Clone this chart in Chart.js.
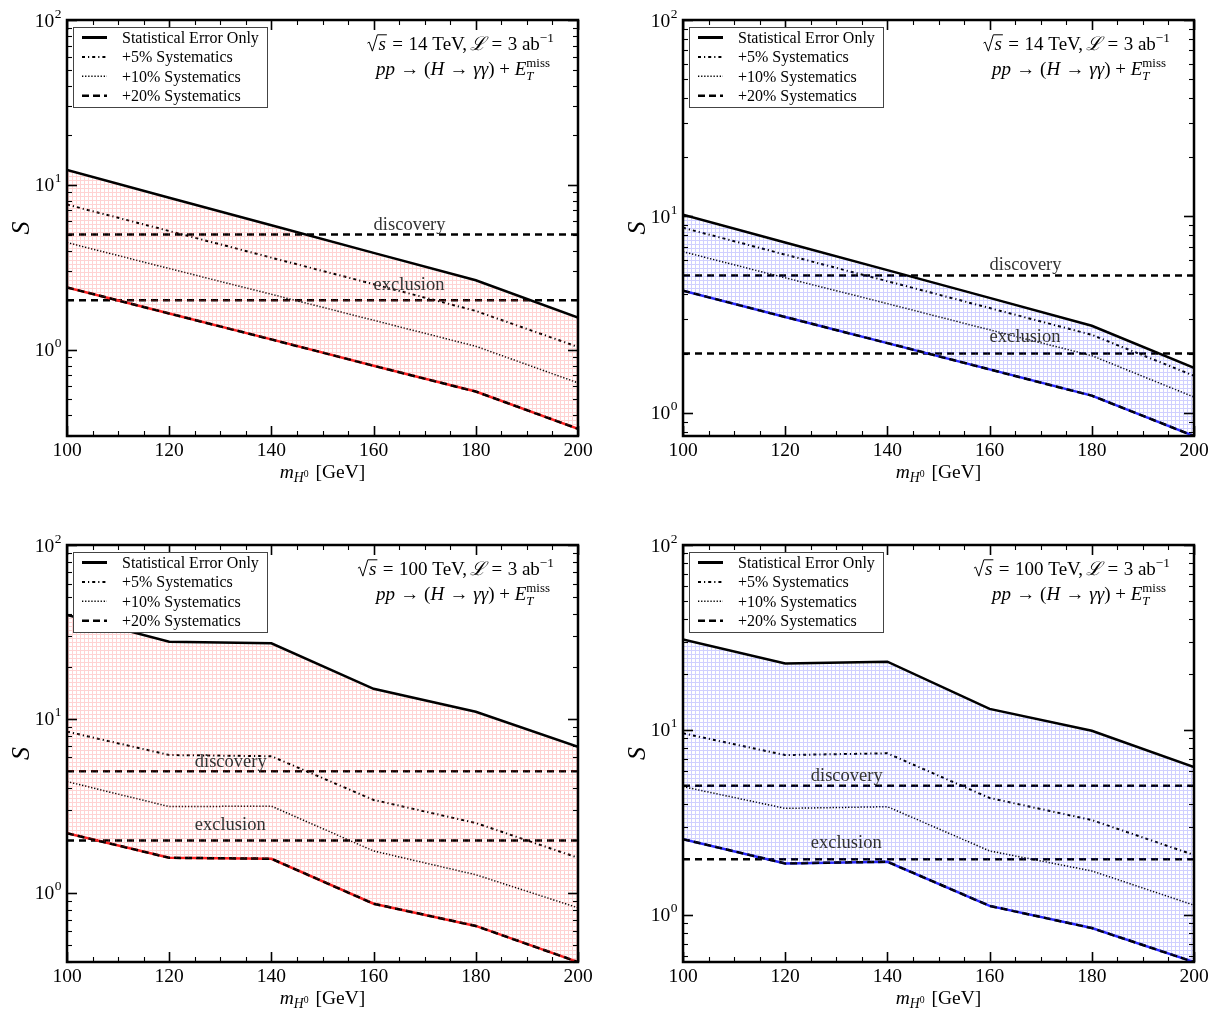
<!DOCTYPE html>
<html><head><meta charset="utf-8">
<script src="https://cdn.jsdelivr.net/npm/chart.js@4.4.1/dist/chart.umd.min.js"></script>
<style>
body{margin:0;background:#fff;width:1214px;height:1020px;position:relative;overflow:hidden}
canvas{position:absolute}
</style></head>
<body>
<canvas id="p1" width="607" height="510" style="left:0;top:0"></canvas>
<canvas id="p2" width="607" height="510" style="left:607px;top:0"></canvas>
<canvas id="p3" width="607" height="510" style="left:0;top:510px"></canvas>
<canvas id="p4" width="607" height="510" style="left:607px;top:510px"></canvas>
<script>
// ---------- data ----------
const masses = [100, 120, 140, 160, 180, 200];
const discoveryLevel = 5;
const exclusionLevel = 2;
const seriesLabels = ['Statistical Error Only', '+5% Systematics', '+10% Systematics', '+20% Systematics'];
const xTicks = [100, 120, 140, 160, 180, 200];

// 14 TeV, red panel
const statA  = [12.3, 8.36, 5.69, 3.87, 2.64, 1.57];
const sys5A  = [7.6, 5.25, 3.62, 2.5, 1.72, 1.04];
const sys10A = [4.47, 3.11, 2.17, 1.51, 1.05, 0.63];
const sys20A = [2.39, 1.66, 1.156, 0.80, 0.558, 0.332];
// 14 TeV, blue panel
const statB  = [10.2, 7.36, 5.32, 3.84, 2.77, 1.69];
const sys5B  = [8.74, 6.38, 4.67, 3.41, 2.49, 1.54];
const sys10B = [6.6, 4.86, 3.59, 2.64, 1.95, 1.2];
const sys20B = [4.18, 3.07, 2.26, 1.66, 1.22, 0.76];
// 100 TeV, red panel
const statC  = [39.6, 27.8, 27.2, 14.9, 11.0, 6.9];
const sys5C  = [8.45, 6.2, 6.1, 3.42, 2.52, 1.59];
const sys10C = [4.36, 3.13, 3.15, 1.74, 1.27, 0.82];
const sys20C = [2.2, 1.59, 1.57, 0.865, 0.645, 0.40];
// 100 TeV, blue panel
const statD  = [30.9, 22.9, 23.4, 13.0, 9.9, 6.3];
const sys5D  = [9.6, 7.32, 7.48, 4.29, 3.26, 2.11];
const sys10D = [4.94, 3.77, 3.85, 2.22, 1.73, 1.13];
const sys20D = [2.57, 1.9, 1.94, 1.12, 0.85, 0.557];

const yMins = [0.332, 0.76, 0.40, 0.557];
const yMax = 100;
const energies = ['14', '14', '100', '100'];
const labelXs = [160, 160, 125, 125];

// ---------- helpers ----------
const FONT = '"Liberation Serif", "DejaVu Serif", serif';
function fnt(px, it) { return (it ? 'italic ' : '') + px + 'px ' + FONT; }

function hatch(color) {
  const c = document.createElement('canvas');
  c.width = 4; c.height = 4;
  const g = c.getContext('2d');
  g.fillStyle = color;
  g.fillRect(0, 0, 4, 1);
  g.fillRect(0, 1, 1, 3);
  return g.createPattern(c, 'repeat');
}

function segW(ctx, s, base) {
  ctx.font = fnt(base * (s.s || 1), s.it);
  return ctx.measureText(s.t).width + (s.pad || 0) * base;
}
function rich(ctx, segs, x, y, base, align) {
  const ws = segs.map(s => {
    if (s.stack) return Math.max(...s.stack.map(q => segW(ctx, q, base)));
    if (s.rad) return 0.62 * base + segW(ctx, s, base) + 1;
    return segW(ctx, s, base);
  });
  const total = ws.reduce((a, b) => a + b, 0);
  let cx = align === 'right' ? x - total : align === 'center' ? x - total / 2 : x;
  ctx.textBaseline = 'alphabetic';
  ctx.textAlign = 'left';
  segs.forEach((s, i) => {
    if (s.stack) {
      s.stack.forEach(q => {
        ctx.font = fnt(base * (q.s || 1), q.it);
        ctx.fillText(q.t, cx, y + (q.dy || 0) * base);
      });
    } else if (s.rad) {
      const w = segW(ctx, s, base);
      ctx.save();
      ctx.lineWidth = 1;
      ctx.beginPath();
      ctx.moveTo(cx + 0.04 * base, y - 0.36 * base);
      ctx.lineTo(cx + 0.13 * base, y - 0.42 * base);
      ctx.lineTo(cx + 0.30 * base, y + 0.06 * base);
      ctx.lineTo(cx + 0.56 * base, y - 0.80 * base);
      ctx.lineTo(cx + 0.62 * base + w + 1, y - 0.80 * base);
      ctx.stroke();
      ctx.restore();
      ctx.font = fnt(base * (s.s || 1), s.it);
      ctx.fillText(s.t, cx + 0.62 * base, y);
    } else {
      ctx.font = fnt(base * (s.s || 1), s.it);
      ctx.fillText(s.t, cx + (s.pre || 0) * base, y + (s.dy || 0) * base);
    }
    cx += ws[i];
  });
  return total;
}

function line(ctx, x1, y1, x2, y2) {
  ctx.beginPath(); ctx.moveTo(x1, y1); ctx.lineTo(x2, y2); ctx.stroke();
}

const decorPlugin = {
  id: 'decor',
  afterDatasetsDraw(chart, args, opts) {
    const ctx = chart.ctx;
    const { left, right, top, bottom } = chart.chartArea;
    const xs = chart.scales.x, ys = chart.scales.y;
    ctx.save();
    ctx.strokeStyle = '#000';
    ctx.fillStyle = '#000';
    // x ticks
    for (let v = 100; v <= 200; v += 5) {
      const px = Math.round(xs.getPixelForValue(v)) + 0.5;
      const major = v % 20 === 0;
      const len = major ? 10 : 5;
      ctx.lineWidth = major ? 1.6 : 1.1;
      line(ctx, px, bottom, px, bottom - len);
      line(ctx, px, top, px, top + len);
    }
    // y ticks
    const ymin = ys.min, ymax = ys.max;
    for (let d = -1; d <= 2; d++) {
      for (let k = 1; k <= 9; k++) {
        const v = k * Math.pow(10, d);
        if (v < ymin * 0.999 || v > ymax * 1.001) continue;
        const py = Math.round(ys.getPixelForValue(v)) + 0.5;
        const major = k === 1;
        const len = major ? 10 : 5;
        ctx.lineWidth = major ? 1.6 : 1.1;
        line(ctx, left, py, left + len, py);
        line(ctx, right, py, right - len, py);
      }
    }
    // frame
    ctx.lineWidth = 2.5;
    ctx.strokeRect(left, top, right - left, bottom - top);

    // x tick labels
    ctx.font = fnt(19.5, false);
    ctx.textAlign = 'center';
    ctx.textBaseline = 'alphabetic';
    xTicks.forEach(v => {
      ctx.fillText(String(v), xs.getPixelForValue(v), bottom + 20);
    });
    // y tick labels
    for (let d = 0; d <= 2; d++) {
      const v = Math.pow(10, d);
      if (v < ymin || v > ymax) continue;
      const py = ys.getPixelForValue(v);
      ctx.font = fnt(19.5, false);
      const w1 = ctx.measureText('10').width;
      ctx.font = fnt(13.5, false);
      const w2 = ctx.measureText(String(d)).width;
      const x0 = left - 6 - w1 - w2;
      ctx.textAlign = 'left';
      ctx.font = fnt(19.5, false);
      ctx.fillText('10', x0, py + 6.5);
      ctx.font = fnt(13.5, false);
      ctx.fillText(String(d), x0 + w1 + 0.5, py - 2.5);
    }
    // axis titles
    rich(ctx, [
      { t: 'm', it: true },
      { t: 'H', it: true, s: 0.7, dy: 0.22 },
      { t: '0', s: 0.5, dy: -0.05, pad: 0.1 },
      { t: ' [GeV]' }
    ], (left + right) / 2, bottom + 42, 19.5, 'center');
    ctx.save();
    ctx.translate(left - 45, (top + bottom) / 2);
    ctx.rotate(-Math.PI / 2);
    ctx.font = fnt(26, true);
    ctx.textAlign = 'center';
    ctx.textBaseline = 'middle';
    ctx.fillText('S', 0, 0);
    ctx.restore();

    // discovery / exclusion labels
    ctx.font = fnt(18.5, false);
    ctx.textAlign = 'left';
    ctx.textBaseline = 'alphabetic';
    ctx.fillStyle = '#333';
    ctx.fillText('discovery', xs.getPixelForValue(opts.labelX), ys.getPixelForValue(5.3));
    ctx.fillText('exclusion', xs.getPixelForValue(opts.labelX), ys.getPixelForValue(2.3));
    ctx.fillStyle = '#000';

    // annotation
    rich(ctx, [
      { rad: true, t: 's', it: true },
      { t: ' = ', pad: 0.08, pre: 0.04 },
      { t: opts.energy + ' TeV,', pad: 0.15 },
      { t: 'ℒ', it: true },
      { t: ' = ', pad: 0.08, pre: 0.04 },
      { t: '3 ab' },
      { t: '−1', s: 0.7, dy: -0.4 }
    ], right - 24, top + 30, 19, 'right');
    rich(ctx, [
      { t: 'pp', it: true, pad: 0.03 },
      { t: ' → (' },
      { t: 'H', it: true, pad: 0.03 },
      { t: ' → ' },
      { t: 'γγ', it: true },
      { t: ') + ' },
      { t: 'E', it: true },
      { stack: [{ t: 'miss', s: 0.68, dy: -0.42 }, { t: 'T', it: true, s: 0.68, dy: 0.25 }] }
    ], right - 28, top + 55, 19, 'right');

    // legend
    const lx = left + 6, ly = top + 7, lw = 194, lh = 80;
    ctx.fillStyle = '#fff';
    ctx.fillRect(lx, ly, lw, lh);
    ctx.strokeStyle = '#444';
    ctx.lineWidth = 1;
    ctx.strokeRect(lx + 0.5, ly + 0.5, lw, lh);
    const styles = [
      { w: 3, dash: [] },
      { w: 2, dash: [3, 3, 1.2, 3] },
      { w: 1.5, dash: [1.3, 1.8] },
      { w: 2.5, dash: [7, 4] }
    ];
    ctx.font = fnt(16, false);
    ctx.textAlign = 'left';
    ctx.textBaseline = 'middle';
    seriesLabels.forEach((lab, i) => {
      const yy = ly + 10.5 + i * 19.4;
      ctx.strokeStyle = '#000';
      ctx.lineWidth = styles[i].w;
      ctx.setLineDash(styles[i].dash);
      line(ctx, lx + 9, yy, lx + 34, yy);
      ctx.setLineDash([]);
      ctx.fillStyle = '#000';
      ctx.fillText(lab, lx + 49, yy + 1);
    });
    ctx.restore();
  }
};

function pts(arr) { return masses.map((m, i) => ({ x: m, y: arr[i] })); }
function hline(v) { return [{ x: 100, y: v }, { x: 200, y: v }]; }

function makePanel(id, pad, stat, s5, s10, s20, ymin, red, energy, labelX) {
  const lineCol = red ? 'rgb(255,30,30)' : 'rgb(40,40,255)';
  const fillPat = hatch(red ? 'rgba(255,70,70,0.24)' : 'rgba(60,60,255,0.24)');
  new Chart(document.getElementById(id), {
    type: 'line',
    data: {
      datasets: [
        { label: seriesLabels[0], data: pts(stat), borderColor: '#000', borderWidth: 2.5, pointRadius: 0,
          fill: { target: 4 }, backgroundColor: fillPat, tension: 0 },
        { label: seriesLabels[1], data: pts(s5), borderColor: '#000', borderWidth: 2, borderDash: [3, 3, 1.2, 3], pointRadius: 0, fill: false },
        { label: seriesLabels[2], data: pts(s10), borderColor: '#000', borderWidth: 1.5, borderDash: [1.3, 1.8], pointRadius: 0, fill: false },
        { label: seriesLabels[3], data: pts(s20), borderColor: '#000', borderWidth: 2.5, borderDash: [7, 4], pointRadius: 0, fill: false },
        { label: 'lower', data: pts(s20), borderColor: lineCol, borderWidth: 2.5, pointRadius: 0, fill: false },
        { label: 'discovery', data: hline(discoveryLevel), borderColor: '#000', borderWidth: 2.5, borderDash: [7, 5], pointRadius: 0, fill: false },
        { label: 'exclusion', data: hline(exclusionLevel), borderColor: '#000', borderWidth: 2.5, borderDash: [7, 5], pointRadius: 0, fill: false }
      ]
    },
    options: {
      responsive: false,
      animation: false,
      events: [],
      layout: { padding: pad },
      scales: {
        x: { type: 'linear', min: 100, max: 200, display: false },
        y: { type: 'logarithmic', min: ymin, max: yMax, display: false }
      },
      plugins: {
        legend: { display: false },
        tooltip: { enabled: false },
        decor: { energy: energy, labelX: labelX }
      }
    },
    plugins: [decorPlugin]
  });
}

makePanel('p1', { left: 67, top: 20, right: 29, bottom: 74 }, statA, sys5A, sys10A, sys20A, yMins[0], true, energies[0], labelXs[0]);
makePanel('p2', { left: 76, top: 20, right: 20, bottom: 74 }, statB, sys5B, sys10B, sys20B, yMins[1], false, energies[1], labelXs[1]);
makePanel('p3', { left: 67, top: 35, right: 29, bottom: 58 }, statC, sys5C, sys10C, sys20C, yMins[2], true, energies[2], labelXs[2]);
makePanel('p4', { left: 76, top: 35, right: 20, bottom: 58 }, statD, sys5D, sys10D, sys20D, yMins[3], false, energies[3], labelXs[3]);
</script>
</body></html>
